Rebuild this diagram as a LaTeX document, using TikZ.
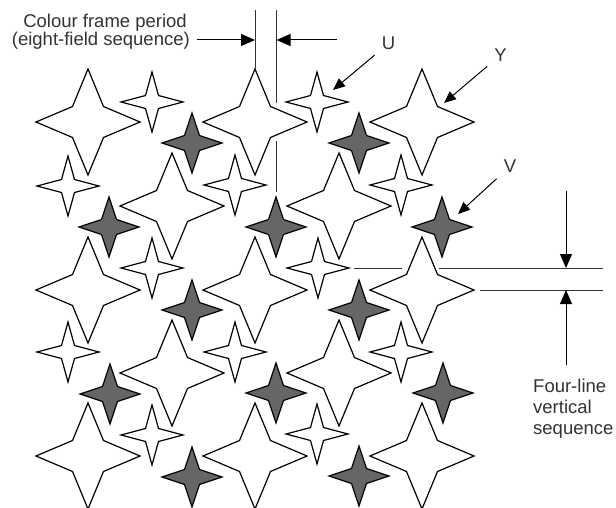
\documentclass[tikz,border=0pt]{standalone}
\usepackage{fontspec}
\setmainfont{Liberation Sans}
\usetikzlibrary{arrows.meta}
\definecolor{vfill}{HTML}{666666}
\definecolor{txt}{HTML}{333333}

\begin{document}
\begin{tikzpicture}[x=1pt, y=-1pt, every node/.style={font=\fontsize{18.5}{21}\selectfont, text=txt, inner sep=0pt},
		outline/.style={draw=black, line width=1.2pt, line join=miter},
		guide/.style={draw=black!80, line width=0.9pt},
		ptr/.style={draw=black, line width=1pt, -{Triangle[length=12pt, width=10pt]}},
		dimptr/.style={draw=black, line width=1pt, -{Triangle[length=14pt, width=12pt]}},
		lbl/.style={inner sep=7pt},
		pics/ystar/.style={code={\draw[outline, fill=white] (0,-53) -- (15.5,-15.5) -- (52,0) -- (15.5,15.5) -- (0,53) -- (-15.5,15.5) -- (-52,0) -- (-15.5,-15.5) -- cycle;}},
		pics/ustar/.style={code={\draw[outline, fill=white] (0,-30) -- (6.5,-6.5) -- (31,0) -- (6.5,6.5) -- (0,30) -- (-6.5,6.5) -- (-31,0) -- (-6.5,-6.5) -- cycle;}},
		pics/vstar/.style={code={\draw[outline, fill=vfill] (0,-30) -- (7.5,-7.5) -- (30,0) -- (7.5,7.5) -- (0,30) -- (-7.5,7.5) -- (-30,0) -- (-7.5,-7.5) -- cycle;}}]
	\useasboundingbox (0,0) rectangle (616,508);
	\foreach \x/\y in {88/122, 255/122, 422/122, 172/206, 339/206, 88/290, 255/290, 422/290, 172/373, 339/373, 88/456, 255/456, 422/456} \pic at (\x,\y) {ystar};
	\foreach \x/\y in {152/102, 317/102, 68/186, 235/185, 401/185, 152/268, 318/268, 68/352, 235/352, 401/352, 152/435, 317/434} \pic at (\x,\y) {ustar};
	\foreach \x/\y in {192/143, 359/143, 109/227, 276/227, 442/227, 192/310, 359/310, 110/394, 276/393, 443/393, 192/477, 359/476} \pic at (\x,\y) {vstar};
	\draw[guide] (255,10) -- (255,70);
	\draw[guide] (276.5,10) -- (276.5,103) (276.5,141) -- (276.5,192);
	\draw[guide] (354,268) -- (402,268) (439,268) -- (603,268) (480,290) -- (603,290);
	\node[anchor=base east] (cfpa) at (187,28) {Colour frame period};
	\node[anchor=base east] (cfpb) at (190,46) {(eight-field sequence)};
	\coordinate (fl) at (255,40);
	\coordinate (fr) at (276.5,40);
	\coordinate (fa) at (337,40);
	\draw[dimptr, shorten <=7pt] (cfpb.east |- fl) -- (fl);
	\draw[dimptr] (fa) -- (fr);
	\node[lbl] (labU) at (388.5,43.5) {U};
	\node[lbl] (labY) at (500.5,55) {Y};
	\node[lbl] (labV) at (510,166.5) {V};
	\coordinate (tipU) at (333,90);
	\coordinate (tipY) at (444,103);
	\coordinate (tipV) at (458,214);
	\foreach \a/\b in {labU/tipU, labY/tipY, labV/tipV} \draw[ptr] (\a) -- (\b);
	\node[anchor=north west, align=left] (seq) at (533,379) {Four-line\\vertical\\sequence};
	\coordinate (da) at (566,191);
	\coordinate (db) at (566,268);
	\coordinate (dc) at (566,290);
	\coordinate (dd) at (566,365);
	\draw[dimptr] (da) -- (db);
	\draw[dimptr] (dd) -- (dc);
\end{tikzpicture}
\end{document}
